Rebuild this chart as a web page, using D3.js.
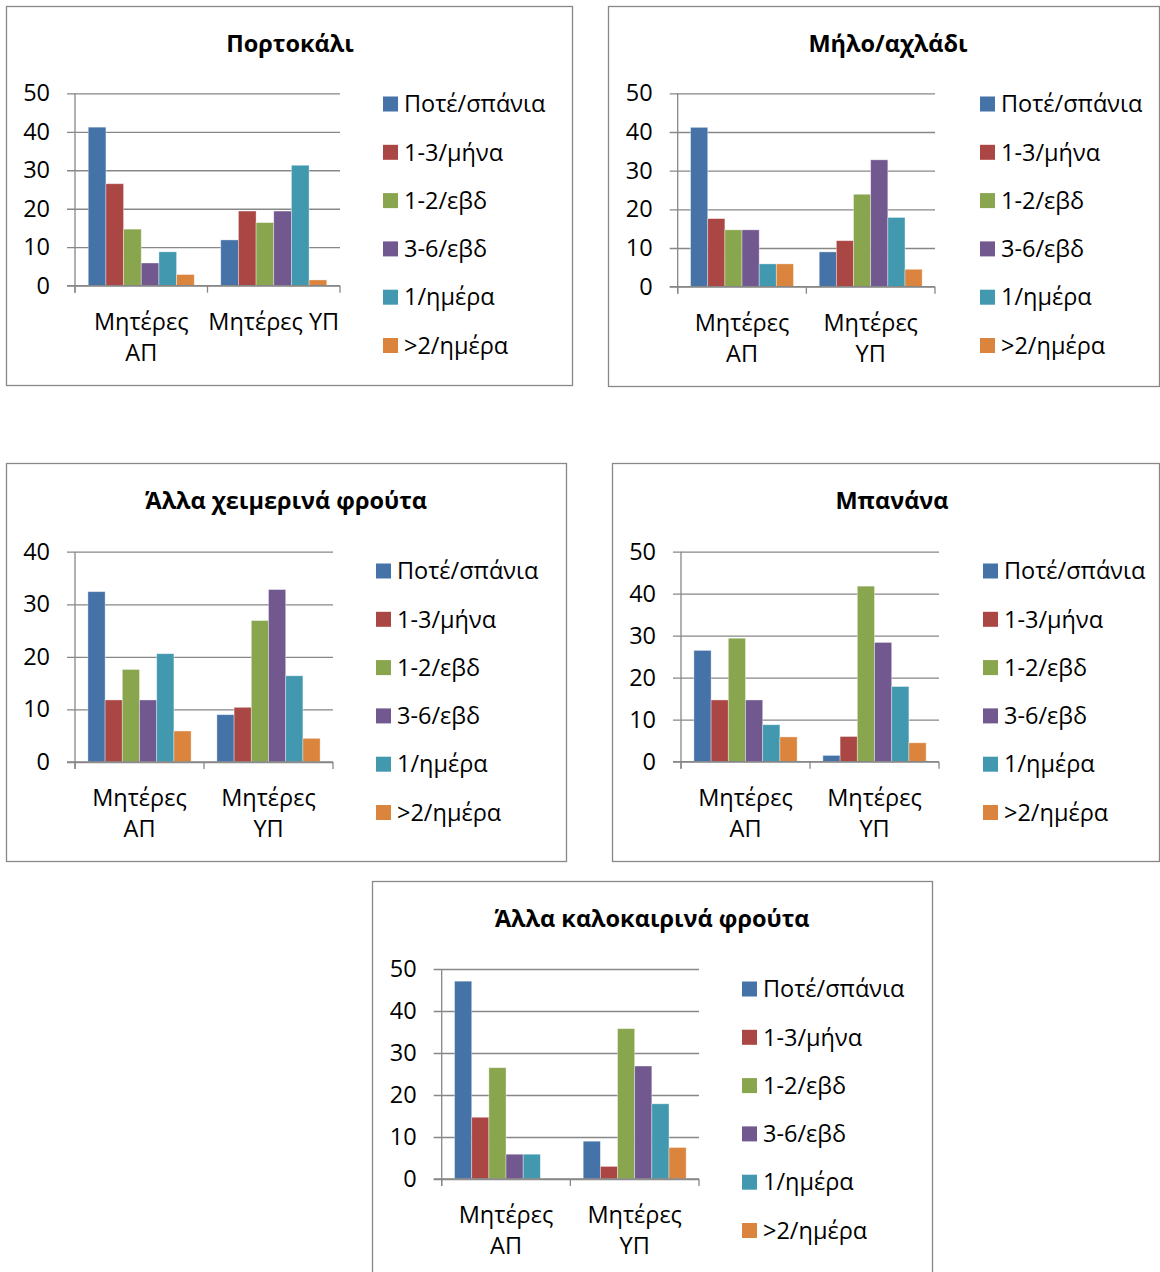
<!DOCTYPE html>
<html>
<head>
<meta charset="utf-8">
<script src="https://cdn.jsdelivr.net/npm/d3@7"></script>
<style>
  html, body { margin: 0; padding: 0; background: #fff; }
  svg { display: block; }
  text { font-family: "Open Sans", "Noto Sans", sans-serif; fill: #000; }
</style>
</head>
<body>
<svg id="chart" width="1160" height="1272"></svg>
<script>
// Groups of mothers and frequency-of-consumption classes (% of each group)
const categories = ["Μητέρες ΑΠ", "Μητέρες ΥΠ"];
const seriesNames = ["Ποτέ/σπάνια", "1-3/μήνα", "1-2/εβδ", "3-6/εβδ", "1/ημέρα", ">2/ημέρα"];
const seriesColors = ["#4572A7", "#AA4643", "#89A54E", "#71588F", "#4198AF", "#DB843D"];

// values[category][series]
const orangeValues   = [[41.2, 26.5, 14.7, 5.9, 8.8, 2.9], [11.9, 19.4, 16.4, 19.4, 31.3, 1.5]];
const appleValues    = [[41.2, 17.6, 14.7, 14.7, 5.9, 5.9], [9.0, 11.9, 23.9, 32.8, 17.9, 4.5]];
const winterValues   = [[32.4, 11.8, 17.6, 11.8, 20.6, 5.9], [9.0, 10.4, 26.9, 32.8, 16.4, 4.5]];
const bananaValues   = [[26.5, 14.7, 29.4, 14.7, 8.8, 5.9], [1.5, 6.0, 41.8, 28.4, 17.9, 4.5]];
const summerValues   = [[47.1, 14.7, 26.5, 5.9, 5.9, 0], [9.0, 3.0, 35.8, 26.9, 17.9, 7.5]];

const titles = ["Πορτοκάλι", "Μήλο/αχλάδι", "Άλλα χειμερινά φρούτα", "Μπανάνα", "Άλλα καλοκαιρινά φρούτα"];
const yMaxima = [50, 50, 40, 50, 50];
const yTickValues = [[0, 10, 20, 30, 40, 50], [0, 10, 20, 30, 40, 50], [0, 10, 20, 30, 40], [0, 10, 20, 30, 40, 50], [0, 10, 20, 30, 40, 50]];
// category labels as they wrap under each chart
const categoryLines = [
  [["Μητέρες", "ΑΠ"], ["Μητέρες ΥΠ"]],
  [["Μητέρες", "ΑΠ"], ["Μητέρες", "ΥΠ"]],
  [["Μητέρες", "ΑΠ"], ["Μητέρες", "ΥΠ"]],
  [["Μητέρες", "ΑΠ"], ["Μητέρες", "ΥΠ"]],
  [["Μητέρες", "ΑΠ"], ["Μητέρες", "ΥΠ"]]
];

// panel layout: frame, plot area, legend origin, title centre
const panels = [
  { data: orangeValues, box: [6, 6, 566, 379],   plot: [75, 93.3, 340, 285.7],   legend: [383, 104], titleX: 290 },
  { data: appleValues,  box: [608, 6, 551, 380], plot: [677.7, 93.3, 935, 286.7], legend: [980, 104], titleX: 888 },
  { data: winterValues, box: [6, 463, 560, 398], plot: [75, 551.7, 333, 762],     legend: [376, 571], titleX: 286 },
  { data: bananaValues, box: [612, 463, 547, 398], plot: [681, 551.7, 939, 761.7], legend: [983, 571], titleX: 892 },
  { data: summerValues, box: [372, 881, 560, 420], plot: [441.7, 969, 699, 1179],  legend: [742, 989], titleX: 652 }
];

const svg = d3.select("#chart");
const gridColor = "#878787";
const fontSize = 23.5;

panels.forEach((p, i) => {
  const g = svg.append("g");
  const [bx, by, bw, bh] = p.box;
  g.append("rect")
    .attr("x", bx + 0.5).attr("y", by + 0.5)
    .attr("width", bw).attr("height", bh)
    .attr("fill", "#fff").attr("stroke", "#888").attr("stroke-width", 1.3);

  g.append("text")
    .attr("x", p.titleX).attr("y", by + 46)
    .attr("text-anchor", "middle")
    .attr("font-size", 23.5).attr("font-weight", "bold")
    .text(titles[i]);

  const [left, top, right, bottom] = p.plot;
  const w = right - left;

  const x0 = d3.scaleBand().domain(categories).range([left, right])
    .paddingInner(0.2).paddingOuter(0.1);
  const x1 = d3.scaleBand().domain(seriesNames).range([0, x0.bandwidth()]).padding(0);
  const y = d3.scaleLinear().domain([0, yMaxima[i]]).range([bottom, top]);

  // horizontal gridlines with their left tick marks and value labels
  const yAxis = g.append("g")
    .attr("transform", `translate(${left - 8},0)`)
    .call(d3.axisLeft(y).tickValues(yTickValues[i]).tickSize(-(w + 8)).tickPadding(17).tickFormat(d3.format("d")));
  yAxis.select(".domain").remove();
  yAxis.selectAll(".tick line").attr("stroke", gridColor).attr("stroke-width", 1.3);
  yAxis.selectAll(".tick text")
    .attr("font-size", fontSize).attr("font-family", null).attr("fill", "#000");

  // bars
  categories.forEach((c, ci) => {
    g.append("g").selectAll("rect")
      .data(p.data[ci].map((v, si) => ({ v, s: seriesNames[si], color: seriesColors[si] })))
      .join("rect")
      .attr("x", d => x0(c) + x1(d.s))
      .attr("y", d => y(d.v))
      .attr("width", x1.bandwidth())
      .attr("height", d => y(0) - y(d.v))
      .attr("fill", d => d.color)
      .attr("stroke", "#fff").attr("stroke-opacity", 0.45).attr("stroke-width", 0.8);
  });

  // vertical value axis line
  g.append("line")
    .attr("x1", left).attr("x2", left).attr("y1", top).attr("y2", bottom + 7)
    .attr("stroke", gridColor).attr("stroke-width", 1.3);

  // category axis: baseline, boundary ticks, wrapped labels
  g.append("line")
    .attr("x1", left - 8).attr("x2", right).attr("y1", bottom).attr("y2", bottom)
    .attr("stroke", gridColor).attr("stroke-width", 1.3);
  const boundaries = d3.range(categories.length + 1).map(k => left + k * w / categories.length);
  g.selectAll(".ctick").data(boundaries).join("line")
    .attr("x1", d => d).attr("x2", d => d).attr("y1", bottom).attr("y2", bottom + 7)
    .attr("stroke", gridColor).attr("stroke-width", 1.3);

  categories.forEach((c, ci) => {
    const t = g.append("text")
      .attr("text-anchor", "middle")
      .attr("font-size", fontSize);
    categoryLines[i][ci].forEach((line, li) => {
      t.append("tspan")
        .attr("x", x0(c) + x0.bandwidth() / 2)
        .attr("y", bottom + 44 + li * 31)
        .text(line);
    });
  });

  // legend
  const [lx, ly] = p.legend;
  const lg = g.append("g").selectAll("g").data(seriesNames).join("g")
    .attr("transform", (d, k) => `translate(${lx},${ly + k * 48.3})`);
  lg.append("rect").attr("x", 0).attr("y", -7.5).attr("width", 15).attr("height", 15)
    .attr("fill", (d, k) => seriesColors[k]);
  lg.append("text").attr("x", 21).attr("y", 8.2).attr("font-size", fontSize).text(d => d);
});
</script>
</body>
</html>
